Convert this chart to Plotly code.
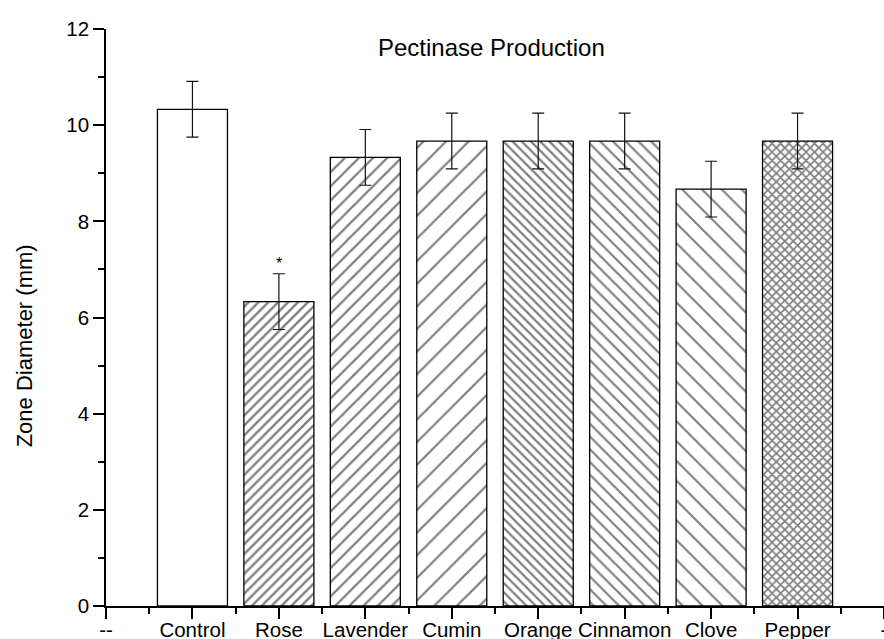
import plotly.graph_objects as go

# ---- data ----
tick_labels = ["--", "Control", "Rose", "Lavender", "Cumin", "Orange",
               "Cinnamon", "Clove", "Pepper", "-"]
samples = ["Control", "Rose", "Lavender", "Cumin", "Orange",
           "Cinnamon", "Clove", "Pepper"]
zone_mm = [10.33, 6.33, 9.33, 9.67, 9.67, 9.67, 8.67, 9.67]
zone_err = [0.58, 0.58, 0.58, 0.58, 0.58, 0.58, 0.58, 0.58]
significant = ["Rose"]
y_ticks = [0, 2, 4, 6, 8, 10, 12]
y_minor = [1, 3, 5, 7, 9, 11]

# ---- styles ----
pattern_shapes = ["", "/", "/", "/", "\\", "\\", "\\", "x"]
pattern_sizes = [8, 7, 10, 16, 6.5, 9, 14, 6]
pattern_solid = [0.1, 0.33, 0.22, 0.14, 0.34, 0.24, 0.15, 0.5]
FONT = "Liberation Sans, Arial, Helvetica, sans-serif"

x_pos = [tick_labels.index(s) for s in samples]

fig = go.Figure()
fig.add_trace(go.Bar(
    x=x_pos,
    y=zone_mm,
    width=0.81,
    marker=dict(
        color="white",
        line=dict(color="black", width=1.3),
        pattern=dict(shape=pattern_shapes, size=pattern_sizes,
                     solidity=pattern_solid, fgcolor="black",
                     bgcolor="white", fillmode="overlay"),
    ),
    error_y=dict(type="data", array=zone_err, visible=True,
                 color="#111111", thickness=1.2, width=6),
    showlegend=False,
    hoverinfo="skip",
))

for s in significant:
    i = samples.index(s)
    fig.add_annotation(x=x_pos[i], y=zone_mm[i] + zone_err[i], xref="x", yref="y",
                       text="*", showarrow=False, yanchor="bottom",
                       font=dict(family=FONT, size=16, color="black"))

fig.add_annotation(text="Pectinase Production", xref="paper", yref="paper",
                   x=0.4955, y=0.9688, xanchor="center", yanchor="middle",
                   showarrow=False, font=dict(family=FONT, size=24, color="black"))

fig.add_annotation(text="Zone Diameter (mm)", xref="paper", yref="paper",
                   x=-0.105, y=0.4506, xanchor="center", yanchor="middle",
                   textangle=-90, showarrow=False,
                   font=dict(family=FONT, size=22, color="black"))

fig.update_layout(
    width=884, height=639,
    margin=dict(l=106, r=0, t=29, b=33, autoexpand=False),
    paper_bgcolor="white", plot_bgcolor="white",
    font=dict(family=FONT, size=20.5, color="black"),
    xaxis=dict(
        range=[0, 9], tickmode="array",
        tickvals=list(range(len(tick_labels))), ticktext=tick_labels,
        showline=True, linecolor="black", linewidth=1.5,
        ticks="outside", ticklen=11, tickwidth=1.5, tickcolor="black",
        ticklabelstandoff=-6, ticklabeloverflow="allow",
        minor=dict(tickvals=[i + 0.5 for i in range(len(tick_labels) - 1)],
                   ticks="outside", ticklen=6, tickwidth=1.5, tickcolor="black"),
        showgrid=False, zeroline=False, automargin=False,
        tickfont=dict(family=FONT, size=20.5, color="black"),
    ),
    yaxis=dict(
        range=[0, 12], tickmode="array", tickvals=y_ticks,
        showline=True, linecolor="black", linewidth=1.5,
        ticks="outside", ticklen=11, tickwidth=1.5, tickcolor="black",
        minor=dict(tickvals=y_minor, ticks="outside", ticklen=6,
                   tickwidth=1.5, tickcolor="black"),
        showgrid=False, zeroline=False, automargin=False,
        tickfont=dict(family=FONT, size=20.5, color="black"),
    ),
)

fig.write_html("out.html",
               config={"displayModeBar": False},
               post_script="document.body.style.margin='0';"
                           "document.body.style.overflow='hidden';")
